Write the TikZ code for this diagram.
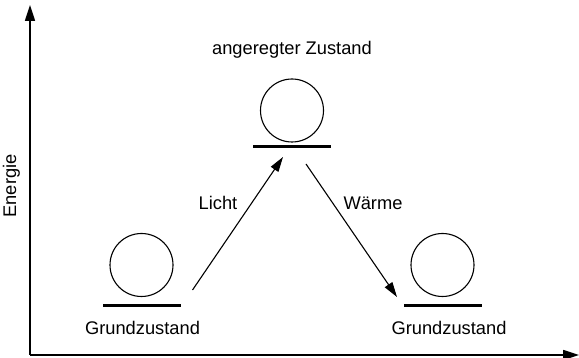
\documentclass[tikz,border=0pt]{standalone}
\usepackage{fontspec}
\setmainfont{Liberation Sans}
\usetikzlibrary{arrows.meta}
\begin{document}
\begin{tikzpicture}[x=1pt,y=-1pt,
  lbl/.style={font=\fontsize{18.3}{20}\selectfont, inner sep=0pt},
  atom/.style={draw, circle, minimum size=63pt, inner sep=0pt, line width=1.1pt},
  level/.style={line width=3pt},
  axis/.style={line width=1.7pt, -{Triangle[length=16pt,width=10pt]}},
  trans/.style={line width=1.1pt, -{Triangle[length=15pt,width=9pt]}}]
\useasboundingbox (0,0) rectangle (579,358);
% axes
\coordinate (o) at (30,355);
\coordinate (ytop) at (30,5);
\coordinate (xend) at (579,355);
\draw[axis] (o) -- (ytop);
\draw[axis] (o) -- (xend);
\node[lbl, rotate=90] (en) at (11.5,186) {Energie};
% atoms
\node[atom] (c1) at (141.5,265) {};
\node[atom] (c2) at (292,110.5) {};
\node[atom] (c3) at (442.5,265) {};
% levels
\coordinate (l1a) at (103,306); \coordinate (l1b) at (181,306);
\coordinate (l2a) at (253,147); \coordinate (l2b) at (331,147);
\coordinate (l3a) at (404,306); \coordinate (l3b) at (482,306);
\draw[level] (l1a) -- (l1b);
\draw[level] (l2a) -- (l2b);
\draw[level] (l3a) -- (l3b);
% labels
\node[lbl] (g1) at (142.5,328) {Grundzustand};
\node[lbl] (g2) at (449,328) {Grundzustand};
\node[lbl] (az) at (292,50) {angeregter Zustand};
\node[lbl] (li) at (218,203) {Licht};
\node[lbl] (wa) at (373,203) {Wärme};
% transitions
\coordinate (t1s) at (192.5,290);
\coordinate (t1e) at (283,157);
\coordinate (t2s) at (306,164);
\coordinate (t2e) at (397,297);
\draw[trans] (t1s) -- (t1e);
\draw[trans] (t2s) -- (t2e);
\end{tikzpicture}
\end{document}
